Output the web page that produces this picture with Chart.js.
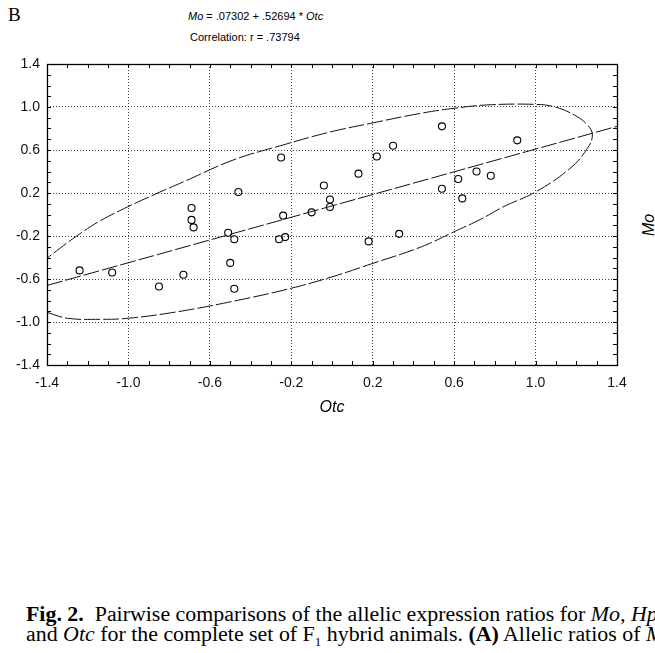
<!DOCTYPE html>
<html>
<head>
<meta charset="utf-8">
<script src="https://cdn.jsdelivr.net/npm/chart.js@4.4.1/dist/chart.umd.min.js"></script>
<style>
  body { margin: 0; background: #fff; width: 655px; height: 653px; overflow: hidden; position: relative; }
  .txt { position: absolute; white-space: nowrap; color: #000; }
  #panel { left: 8px; top: 4px; font: 19px "Liberation Serif", serif; }
  #eq { left: 188px; top: 10px; font: 11px "Liberation Sans", Arial, sans-serif; }
  #corr { left: 190px; top: 31px; font: 11px "Liberation Sans", Arial, sans-serif; }
  #sideLabel { left: 640px; top: 236px; font: italic 16px "Liberation Sans", Arial, sans-serif; transform: rotate(-90deg); transform-origin: left top; }
  #caption { left: 26px; top: 604px; width: 629px; overflow: hidden; font: 21.9px/20px "Liberation Serif", serif; }
  #chartBox { position: absolute; left: 0; top: 0; width: 655px; height: 420px; }
</style>
</head>
<body>
<div class="txt" id="panel">B</div>
<div class="txt" id="eq"><i>Mo</i> = .07302 + .52694 * <i>Otc</i></div>
<div class="txt" id="corr">Correlation: r = .73794</div>
<div class="txt" id="sideLabel">Mo</div>
<div id="chartBox"><canvas id="scatter-chart" width="655" height="420"></canvas></div>
<div class="txt" id="caption"><b>Fig. 2.</b>&nbsp; Pairwise comparisons of the allelic expression ratios for <i>Mo, Hpx,</i><br>and <i>Otc</i> for the complete set of F<sub style="font-size:13px">1</sub> hybrid animals. <b>(A)</b> Allelic ratios of <i>Mo</i></div>

<script>
// Tick values on both axes
const xTicks = [-1.4, -1.0, -0.6, -0.2, 0.2, 0.6, 1.0, 1.4];
const yTicks = [-1.4, -1.0, -0.6, -0.2, 0.2, 0.6, 1.0, 1.4];

// Individual animals
const otcValues = [-1.24, -1.08, -0.85, -0.73, -0.69, -0.69, -0.68, -0.51, -0.48, -0.50, -0.48, -0.46,
                   -0.25, -0.24, -0.26, -0.23, -0.10, -0.04, -0.01, -0.01, 0.13, 0.22, 0.30, 0.33,
                   0.18, 0.54, 0.91, 0.71, 0.78, 0.62, 0.54, 0.64];
const moValues = [-0.52, -0.54, -0.67, -0.56, 0.06, -0.05, -0.12, -0.17, -0.23, -0.45, -0.69, 0.21,
                  0.53, -0.01, -0.23, -0.21, 0.02, 0.27, 0.14, 0.07, 0.38, 0.54, 0.64, -0.18,
                  -0.25, 0.82, 0.69, 0.40, 0.36, 0.33, 0.24, 0.15];

// Regression line end points
const fitOtc = [-1.4, 1.4];
const fitMo = [-0.66, 0.82];

// 95% ellipse outline (lower arc then upper arc)
const ellipseOtc = [-1.40, -1.30, -1.14, -1.00, -0.76, -0.48, -0.20, 0.00, 0.20, 0.44, 0.60, 0.73, 0.84, 1.00, 1.17, 1.255, 1.279,
                    1.255, 1.19, 1.09, 0.99, 0.76, 0.60, 0.435, 0.19, -0.01, -0.24, -0.485, -0.72, -0.845, -1.005, -1.14, -1.24, -1.335, -1.40];
const ellipseMo = [-0.91, -0.965, -0.975, -0.965, -0.905, -0.805, -0.686, -0.58, -0.455, -0.30, -0.16, -0.045, 0.07, 0.21, 0.43, 0.616, 0.74,
                   0.833, 0.926, 1.003, 1.025, 1.019, 0.988, 0.941, 0.848, 0.767, 0.647, 0.507, 0.312, 0.209, 0.07, -0.06, -0.181, -0.312, -0.407];

const sansFont = 'Liberation Sans, Arial, sans-serif';

// frame round the plot plus small inward ticks on all four sides
const frameTicks = {
    id: 'frameTicks',
    afterDraw(chart) {
        const { ctx, chartArea: a, scales } = chart;
        ctx.save();
        ctx.strokeStyle = '#000';
        ctx.lineWidth = 1;
        ctx.beginPath();
        for (let i = -14; i <= 14; i++) {
            const v = i / 10;
            const px = Math.round(scales.x.getPixelForValue(v)) + 0.5;
            const py = Math.round(scales.y.getPixelForValue(v)) + 0.5;
            ctx.moveTo(px, a.bottom); ctx.lineTo(px, a.bottom - 4);
            ctx.moveTo(px, a.top); ctx.lineTo(px, a.top + 4);
            ctx.moveTo(a.left, py); ctx.lineTo(a.left + 4, py);
            ctx.moveTo(a.right, py); ctx.lineTo(a.right - 4, py);
        }
        ctx.stroke();
        ctx.lineWidth = 1.3;
        ctx.strokeRect(Math.round(a.left) + 0.5, Math.round(a.top) + 0.5,
                       Math.round(a.right - a.left), Math.round(a.bottom - a.top));
        ctx.restore();
    }
};

function axisOptions(tickValues, extra) {
    return Object.assign({
        type: 'linear',
        min: -1.4,
        max: 1.4,
        afterBuildTicks: s => { s.ticks = tickValues.map(v => ({ value: v })); },
        ticks: {
            autoSkip: false,
            maxRotation: 0,
            color: '#111',
            font: { family: sansFont, size: 14 },
            callback: v => v.toFixed(1)
        },
        grid: { color: '#444', lineWidth: 1, drawTicks: false },
        border: { display: false, dash: [1, 2] }
    }, extra);
}

document.addEventListener('DOMContentLoaded', function() {
    const ctx = document.getElementById('scatter-chart').getContext('2d');
    const xScale = axisOptions(xTicks, {
        title: { display: true, text: 'Otc', color: '#000', font: { family: sansFont, size: 16, style: 'italic' }, padding: { top: 0, bottom: 3 } },
        afterFit: s => { s.height = 55; }
    });
    xScale.ticks.padding = 10;
    const yScale = axisOptions(yTicks, {
        afterFit: s => { s.width = 47; }
    });
    yScale.ticks.padding = 7;

    new Chart(ctx, {
        type: 'scatter',
        data: {
            datasets: [
                {
                    label: 'ellipse',
                    data: ellipseOtc.map((x, i) => ({ x: x, y: ellipseMo[i] })),
                    showLine: true,
                    pointRadius: 0,
                    borderColor: '#111',
                    borderWidth: 1,
                    borderDash: [16, 3],
                    tension: 0.4,
                    fill: false
                },
                {
                    label: 'fit',
                    data: fitOtc.map((x, i) => ({ x: x, y: fitMo[i] })),
                    showLine: true,
                    pointRadius: 0,
                    borderColor: '#111',
                    borderWidth: 1,
                    borderDash: [16, 3],
                    fill: false
                },
                {
                    label: 'animals',
                    data: otcValues.map((x, i) => ({ x: x, y: moValues[i] })),
                    pointRadius: 3.5,
                    pointBorderWidth: 1.1,
                    borderColor: '#000',
                    backgroundColor: 'rgba(0,0,0,0)'
                }
            ]
        },
        options: {
            responsive: false,
            animation: false,
            layout: { padding: { top: 64, right: 38, left: 0, bottom: 0 } },
            plugins: {
                legend: { display: false },
                tooltip: { enabled: false }
            },
            scales: { x: xScale, y: yScale }
        },
        plugins: [frameTicks]
    });
});
</script>
</body>
</html>
